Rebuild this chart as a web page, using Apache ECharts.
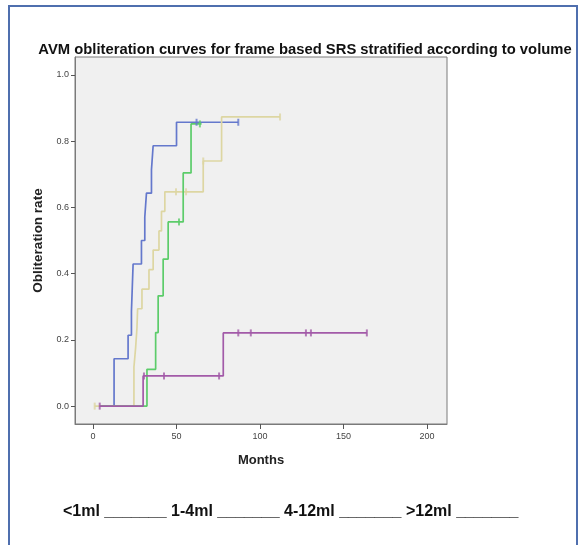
<!DOCTYPE html>
<html>
<head>
<meta charset="utf-8">
<script src="https://cdn.jsdelivr.net/npm/echarts@6/dist/echarts.min.js"></script>
<style>
  html, body { margin: 0; padding: 0; background: #fff; }
  #chart { width: 586px; height: 545px; }
</style>
</head>
<body>
<div id="chart"></div>
<script>
// Kaplan-Meier steps: [months, obliteration rate]
const lt1ml = [[4.5, 0], [12.6, 0.143], [21, 0.214], [23, 0.286], [23.5, 0.357], [24, 0.429],
  [29, 0.5], [31, 0.571], [32, 0.643], [35, 0.714], [36, 0.786], [50, 0.857], [87, 0.857]];
const ml1to4 = [[1, 0], [24.5, 0.118], [25.5, 0.176], [26.3, 0.235], [26.7, 0.294], [29.3, 0.353],
  [33.5, 0.412], [36, 0.471], [39.5, 0.529], [41, 0.588], [43, 0.647], [66, 0.74], [77, 0.873], [112, 0.873]];
const ml4to12 = [[4, 0], [32.3, 0.111], [37.5, 0.222], [39, 0.333], [42, 0.444], [45, 0.556],
  [54, 0.704], [58.7, 0.852], [65, 0.852]];
const gt12ml = [[4, 0], [30, 0.091], [78, 0.221], [164, 0.221]];

// censored cases (tick marks)
const lt1mlCens = [[62, 0.857], [87, 0.857]];
const ml1to4Cens = [[1, 0], [49.7, 0.647], [55.7, 0.647], [66, 0.74], [112, 0.873]];
const ml4to12Cens = [[51.5, 0.556], [64, 0.852]];
const gt12mlCens = [[4, 0], [30.5, 0.091], [42.5, 0.091], [75.5, 0.091], [87, 0.221], [94.5, 0.221],
  [127.5, 0.221], [130.5, 0.221], [164, 0.221]];

const xTicks = [0, 50, 100, 150, 200];
const yTicks = [0, 0.2, 0.4, 0.6, 0.8, 1.0];

const colors = {
  lt1ml: '#6478cc',
  ml1to4: '#ddd6a2',
  ml4to12: '#5ccc6a',
  gt12ml: '#a25aa8'
};

const chart = echarts.init(document.getElementById('chart'));

function stepLine(name, data, color) {
  return {
    name: name,
    type: 'line',
    step: 'end',
    showSymbol: false,
    symbol: 'none',
    lineStyle: { color: color, width: 1.7 },
    data: data,
    z: 3
  };
}

function censMarks(name, data, color) {
  return {
    name: name + ' censored',
    type: 'scatter',
    symbol: 'rect',
    symbolSize: [2, 7],
    itemStyle: { color: color },
    data: data,
    z: 4
  };
}

const font = 'Liberation Sans, Arial, sans-serif';

const option = {
  animation: false,
  title: {
    text: 'AVM obliteration curves for frame based SRS stratified according to volume',
    left: 300,
    textAlign: 'center',
    top: 37,
    textStyle: {
      fontFamily: font,
      fontSize: 14.8,
      fontWeight: 'bold',
      color: '#111'
    }
  },
  grid: {
    left: 75,
    top: 57,
    width: 372,
    height: 367,
    show: true,
    backgroundColor: '#f0f0f0',
    borderColor: '#7a7a7a',
    borderWidth: 1
  },
  xAxis: {
    type: 'value',
    min: -10.8,
    max: 212,
    name: 'Months',
    nameLocation: 'middle',
    nameGap: 30,
    nameTextStyle: {
      fontFamily: font,
      fontSize: 13,
      fontWeight: 'bold',
      color: '#222'
    },
    axisLine: { show: true, onZero: false, lineStyle: { color: '#7a7a7a', width: 1 } },
    axisTick: { show: true, length: 5, customValues: xTicks, lineStyle: { color: '#555' } },
    axisLabel: {
      customValues: xTicks,
      margin: 8,
      fontFamily: font,
      fontSize: 9,
      color: '#444'
    },
    splitLine: { show: false }
  },
  yAxis: {
    type: 'value',
    min: -0.054,
    max: 1.054,
    name: 'Obliteration rate',
    nameLocation: 'middle',
    nameGap: 29,
    nameTextStyle: {
      fontFamily: font,
      fontSize: 13.5,
      fontWeight: 'bold',
      color: '#222'
    },
    axisLine: { show: true, onZero: false, lineStyle: { color: '#7a7a7a', width: 1 } },
    axisTick: { show: true, length: 4, customValues: yTicks, lineStyle: { color: '#555' } },
    axisLabel: {
      customValues: yTicks,
      margin: 6,
      formatter: (v) => v.toFixed(1),
      fontFamily: font,
      fontSize: 9,
      color: '#444'
    },
    splitLine: { show: false }
  },
  graphic: [
    {
      type: 'rect',
      shape: { x: 9, y: 6, width: 568, height: 545 },
      style: { fill: 'none', stroke: '#4f6fae', lineWidth: 2 },
      silent: true
    },
    {
      type: 'text',
      left: 63,
      top: 504,
      style: {
        text: '<1ml _______ 1-4ml _______ 4-12ml _______ >12ml _______',
        font: 'bold 16px "Liberation Sans", Arial, sans-serif',
        fill: '#111'
      }
    }
  ],
  series: [
    stepLine('<1ml', lt1ml, colors.lt1ml),
    stepLine('1-4ml', ml1to4, colors.ml1to4),
    stepLine('4-12ml', ml4to12, colors.ml4to12),
    stepLine('>12ml', gt12ml, colors.gt12ml),
    censMarks('<1ml', lt1mlCens, colors.lt1ml),
    censMarks('1-4ml', ml1to4Cens, colors.ml1to4),
    censMarks('4-12ml', ml4to12Cens, colors.ml4to12),
    censMarks('>12ml', gt12mlCens, colors.gt12ml)
  ]
};

chart.setOption(option);
</script>
</body>
</html>
